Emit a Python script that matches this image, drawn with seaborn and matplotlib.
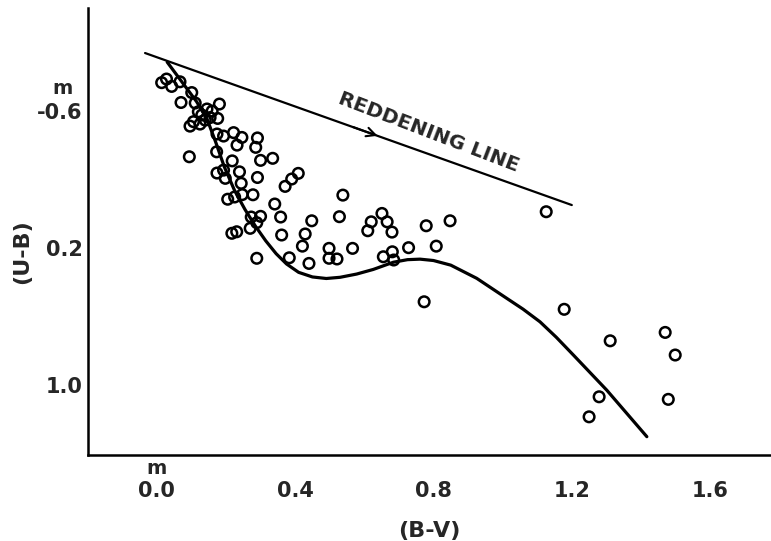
import numpy as np
import matplotlib
matplotlib.use("Agg")
import matplotlib.pyplot as plt
import seaborn as sns

# === 1. Daten ===
# Sterne: (B-V), (U-B)
bv = [0.014, 0.028, 0.043, 0.067, 0.070, 0.101, 0.111, 0.120, 0.145, 0.154,
      0.181, 0.176, 0.096, 0.106, 0.130, 0.140, 0.125, 0.160, 0.174, 0.193,
      0.222, 0.246, 0.232, 0.291, 0.286, 0.094, 0.173, 0.218, 0.300, 0.335,
      0.174, 0.193, 0.239, 0.198, 0.291, 0.244, 0.371, 0.390, 0.409, 0.205,
      0.225, 0.247, 0.278, 0.341, 0.273, 0.300, 0.358, 0.538, 0.448, 0.528,
      0.651, 0.620, 0.666, 0.217, 0.231, 0.270, 0.289, 0.361, 0.429, 0.610,
      0.680, 0.421, 0.498, 0.566, 0.289, 0.383, 0.440, 0.498, 0.521, 0.655,
      0.681, 0.685, 0.779, 0.848, 0.728, 0.808, 1.126, 0.773, 1.178, 1.311,
      1.470, 1.499, 1.279, 1.250, 1.479]
ub = [-0.766, -0.787, -0.744, -0.771, -0.650, -0.708, -0.647, -0.596, -0.612, -0.562,
      -0.641, -0.557, -0.512, -0.538, -0.577, -0.547, -0.524, -0.600, -0.466, -0.454,
      -0.474, -0.446, -0.401, -0.443, -0.388, -0.333, -0.362, -0.309, -0.312, -0.324,
      -0.238, -0.255, -0.245, -0.207, -0.212, -0.178, -0.160, -0.203, -0.236, -0.085,
      -0.098, -0.112, -0.111, -0.057, 0.019, 0.015, 0.019, -0.109, 0.041, 0.017,
      -0.002, 0.047, 0.047, 0.114, 0.105, 0.085, 0.052, 0.124, 0.118, 0.099,
      0.107, 0.189, 0.202, 0.202, 0.260, 0.257, 0.290, 0.260, 0.264, 0.251,
      0.222, 0.270, 0.070, 0.041, 0.198, 0.189, -0.012, 0.514, 0.558, 0.742,
      0.693, 0.825, 1.069, 1.186, 1.084]

# Hauptreihe (Kurve)
kurve_bv = [0.030, 0.080, 0.115, 0.145, 0.170, 0.195, 0.225, 0.255, 0.285, 0.315,
            0.345, 0.375, 0.410, 0.450, 0.490, 0.530, 0.578, 0.626, 0.684, 0.725,
            0.761, 0.800, 0.850, 0.925, 1.012, 1.059, 1.108, 1.155, 1.205, 1.301,
            1.417]
kurve_ub = [-0.886, -0.750, -0.655, -0.555, -0.420, -0.275, -0.135, -0.025, 0.072, 0.158,
            0.233, 0.293, 0.342, 0.369, 0.378, 0.371, 0.352, 0.325, 0.283, 0.268,
            0.265, 0.273, 0.300, 0.377, 0.494, 0.557, 0.631, 0.721, 0.826, 1.030,
            1.302]

# Verfaerbungslinie
rot_bv = [-0.034, 1.200]
rot_ub = [-0.939, -0.051]

x_ticks = [0.0, 0.4, 0.8, 1.2, 1.6]
x_labels = ["0.0", "0.4", "0.8", "1.2", "1.6"]
y_ticks = [-0.6, 0.2, 1.0]
y_labels = ["-0.6", "0.2", "1.0"]

# === 2. Plot ===
sns.set_style("white")
fig = plt.figure(figsize=(7.71, 5.41), dpi=100)
ax = fig.add_axes([88 / 771, 86 / 541, 683 / 771, 447 / 541])

sns.lineplot(x=rot_bv, y=rot_ub, ax=ax, color="black", linewidth=1.6,
             sort=False, estimator=None)
sns.lineplot(x=kurve_bv, y=kurve_ub, ax=ax, color="black", linewidth=2.3,
             sort=False, estimator=None)
sns.scatterplot(x=bv, y=ub, ax=ax, s=58, marker="o", facecolors="none",
                edgecolor="black", linewidth=1.8, zorder=3)

# Pfeil auf der Linie
ax.annotate("", xy=(0.646, -0.450), xytext=(0.560, -0.512),
            arrowprops=dict(arrowstyle="->", color="black", lw=1.5,
                            mutation_scale=16))
ax.text(0.785, -0.477, "REDDENING LINE", rotation=-21, rotation_mode="anchor",
        ha="center", va="center", fontsize=14.5, fontweight="bold")

ax.set_xlim(-0.199, 1.776)
ax.set_ylim(1.409, -1.202)
ax.set_xticks(x_ticks)
ax.set_xticklabels(x_labels)
ax.set_yticks(y_ticks)
ax.set_yticklabels(y_labels)
ax.tick_params(axis="both", direction="in", width=1.5, labelsize=15)
ax.tick_params(axis="y", length=7, pad=4)
ax.tick_params(axis="x", length=6, pad=19)
for lab in ax.get_xticklabels() + ax.get_yticklabels():
    lab.set_fontweight("bold")

for side in ["top", "right"]:
    ax.spines[side].set_visible(False)
for side in ["left", "bottom"]:
    ax.spines[side].set_linewidth(1.8)
    ax.spines[side].set_color("black")

ax.set_xlabel("(B-V)", fontsize=16, fontweight="bold", labelpad=14)
ax.set_ylabel("(U-B)", fontsize=16, fontweight="bold")
ax.yaxis.set_label_coords(-0.082, 0.454)

# "m" Hochzeichen
fig.text(62 / 771, 1 - 89 / 541, "m", ha="center", va="center",
         fontsize=14, fontweight="bold")
fig.text(157 / 771, 1 - 468 / 541, "m", ha="center", va="center",
         fontsize=14, fontweight="bold")

fig.savefig("out.png", dpi=100)
